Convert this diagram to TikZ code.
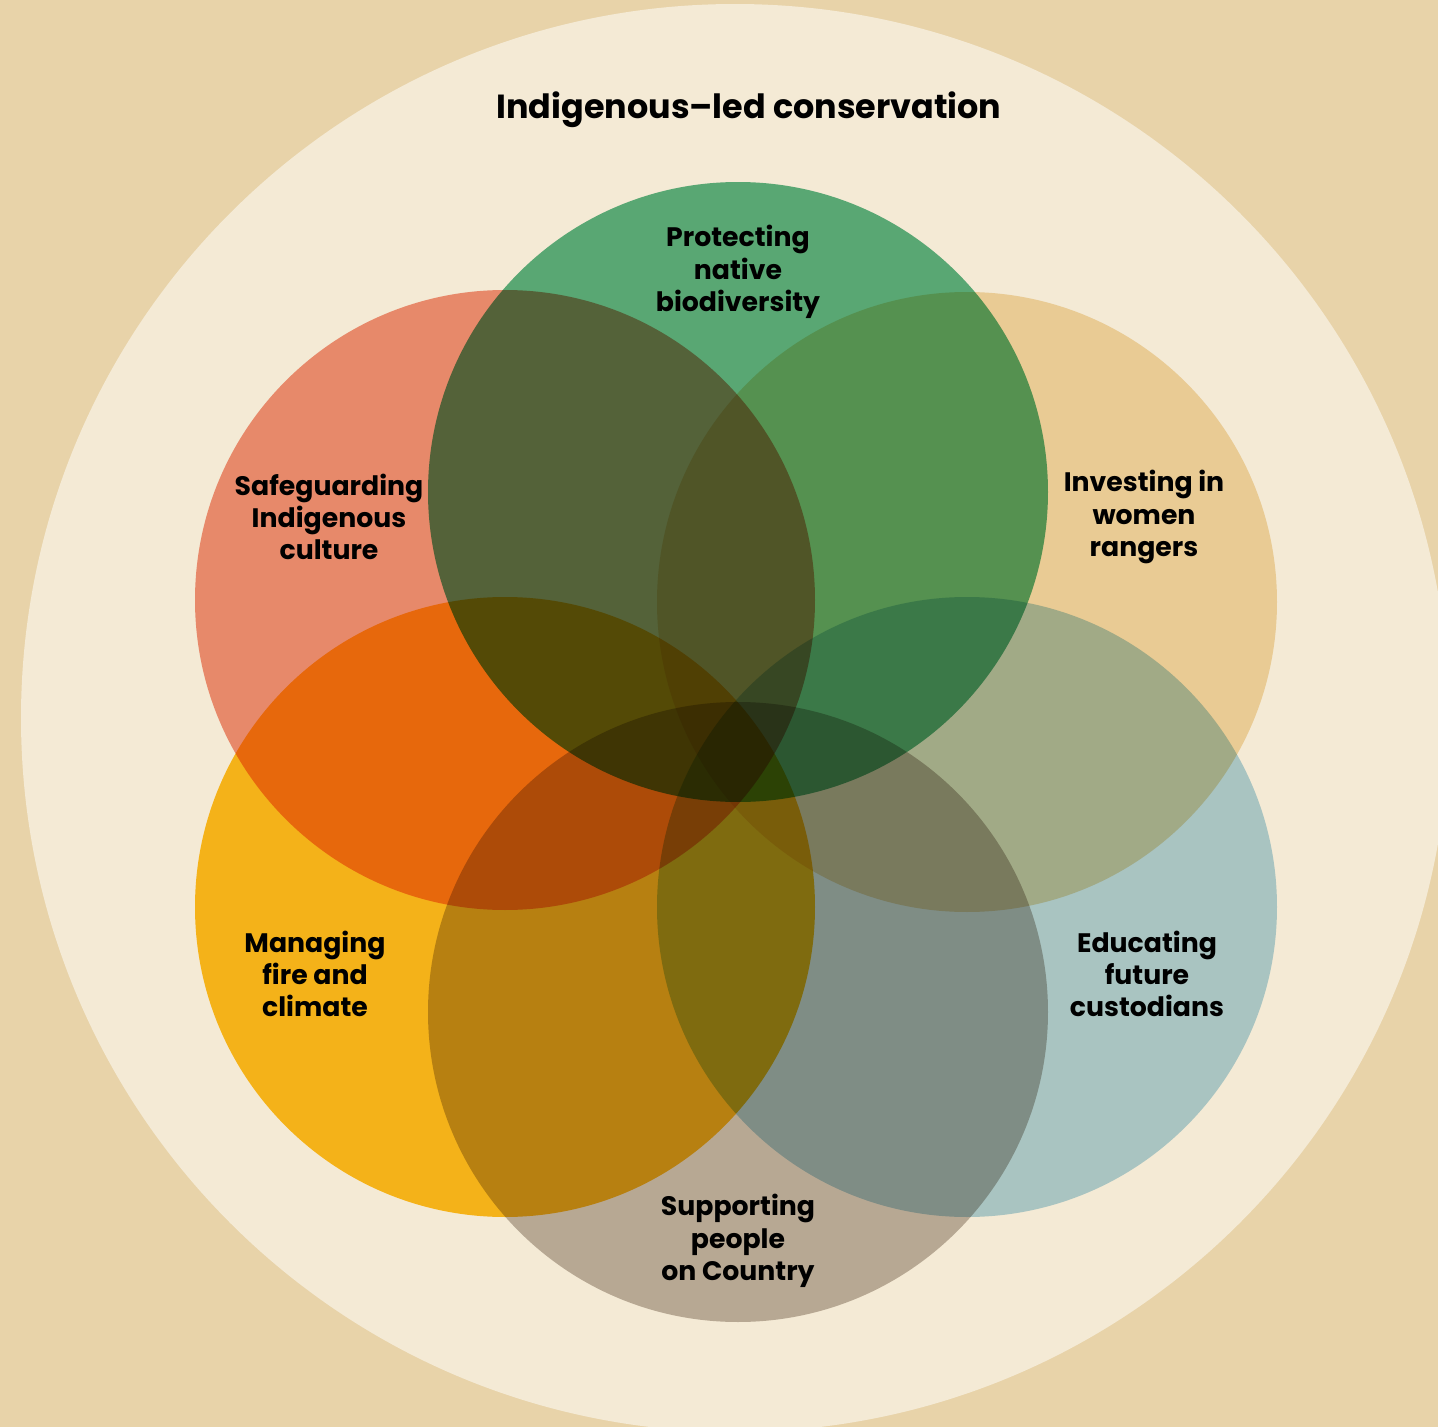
\documentclass[tikz,border=0pt]{standalone}
\usepackage{fontspec}
\setmainfont{Poppins}
\usepackage{tikz}
\usetikzlibrary{positioning}
\definecolor{sand}{HTML}{E8D3A9}
\definecolor{cream}{HTML}{F4EAD5}
\definecolor{leafgreen}{HTML}{5EB78A}
\definecolor{ochrered}{HTML}{F2967F}
\definecolor{wheat}{HTML}{F4DEB2}
\definecolor{sunyellow}{HTML}{FFC21F}
\definecolor{skyblue}{HTML}{B1D6E8}
\definecolor{stone}{HTML}{C0B8B1}
\tikzset{
    area/.style={blend mode=multiply, fill=#1},
    areatext/.style={font=\bfseries\fontsize{7.6}{9.2}\selectfont, align=center, text=black},
    heading/.style={font=\bfseries\fontsize{9.5}{12}\selectfont, text=black},
}

\begin{document}
\begin{tikzpicture}[x=0.01cm, y=-0.01cm]
	\useasboundingbox (0,0) rectangle (1438,1427);
	\fill[sand] (0,0) rectangle (1438,1427);
	% outer ring
	\begin{scope}
		\clip (0,0) rectangle (1438,1427);
		\fill[cream] (735,718) circle [radius=714];
	\end{scope}
	\node[heading] (title) at (749,110) {Indigenous–led conservation};
	% the six circles
	\coordinate (protect) at (738,492);
	\coordinate (culture) at (505,600);
	\coordinate (women) at (967,602);
	\coordinate (fire) at (505,907);
	\coordinate (educate) at (967,907);
	\coordinate (country) at (738,1012);
	\fill[area=leafgreen] (protect) circle [radius=310];
	\fill[area=ochrered] (culture) circle [radius=310];
	\fill[area=wheat] (women) circle [radius=310];
	\fill[area=sunyellow] (fire) circle [radius=310];
	\fill[area=skyblue] (educate) circle [radius=310];
	\fill[area=stone] (country) circle [radius=310];
	% labels
	\node[areatext] (protect-t) at (738,272) {Protecting\\native\\biodiversity};
	\node[areatext] (culture-t) at (329,517) {Safeguarding\\Indigenous\\culture};
	\node[areatext] (women-t) at (1144,517) {Investing in\\women\\rangers};
	\node[areatext] (fire-t) at (315,974) {Managing\\fire and\\climate};
	\node[areatext] (educate-t) at (1147,974) {Educating\\future\\custodians};
	\node[areatext] (country-t) at (738,1241) {Supporting\\people\\on Country};
\end{tikzpicture}
\end{document}
